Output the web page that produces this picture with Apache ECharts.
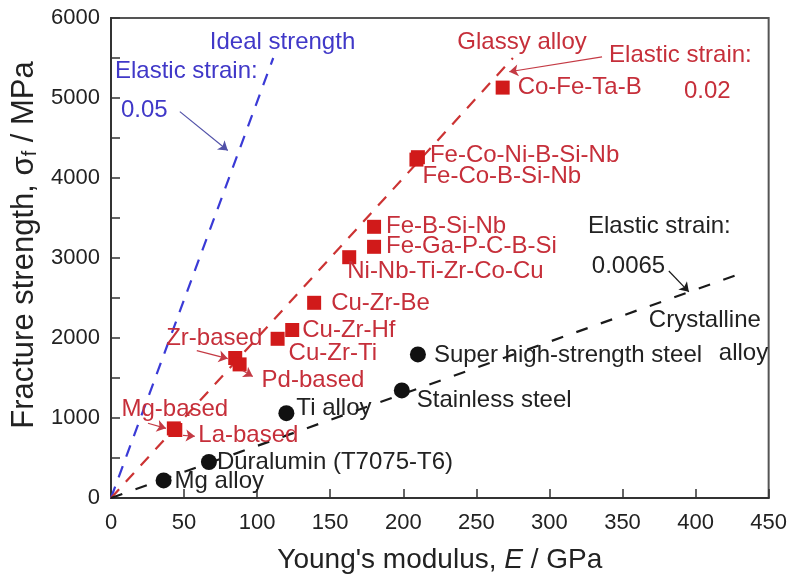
<!DOCTYPE html>
<html>
<head>
<meta charset="utf-8">
<script src="https://cdn.jsdelivr.net/npm/echarts@6/dist/echarts.min.js"></script>
<style>
  html, body { margin: 0; padding: 0; background: #fff; }
  #chart { width: 790px; height: 579px; }
</style>
</head>
<body>
<div id="chart"></div>
<script>
// tick labels
const xTicks = [0, 50, 100, 150, 200, 250, 300, 350, 400, 450];
const yTicks = [0, 1000, 2000, 3000, 4000, 5000, 6000];

// glassy alloys (red squares)
const glassyNames = ['Co-Fe-Ta-B', 'Fe-Co-Ni-B-Si-Nb', 'Fe-Co-B-Si-Nb', 'Fe-B-Si-Nb', 'Fe-Ga-P-C-B-Si',
  'Ni-Nb-Ti-Zr-Co-Cu', 'Cu-Zr-Be', 'Cu-Zr-Hf', 'Cu-Zr-Ti', 'Zr-based', 'Pd-based', 'Mg-based', 'La-based'];
const glassyModulus = [268, 210, 209, 180, 180, 163, 139, 124, 114, 85, 88, 43, 44];
const glassyStrength = [5130, 4260, 4230, 3390, 3140, 3010, 2440, 2100, 1990, 1750, 1670, 870, 850];

// crystalline alloys (black circles)
const crystalNames = ['Mg alloy', 'Duralumin (T7075-T6)', 'Ti alloy', 'Stainless steel', 'Super high-strength steel'];
const crystalModulus = [36, 67, 120, 199, 210];
const crystalStrength = [220, 450, 1060, 1345, 1795];

// elastic strain lines (end points)
const idealLineE = [0, 111];
const idealLineS = [0, 5500];
const glassyLineE = [0, 275];
const glassyLineS = [0, 5500];
const crystalLineE = [0, 430];
const crystalLineS = [0, 2800];

const FONT = '"Liberation Sans", Arial, sans-serif';
const RED = '#d11a1a';
const RED_TXT = '#c62f3a';
const BLUE = '#3a3ad6';
const BLUE_TXT = '#4038c8';
const DARK = '#222';

// where each point label sits: side of the marker + nudge in px
const labelLayout = {
  'Co-Fe-Ta-B': { position: 'right', dx: 3, dy: 0 },
  'Fe-Co-Ni-B-Si-Nb': { position: 'right', dx: 0, dy: -2 },
  'Fe-Co-B-Si-Nb': { position: 'right', dx: -6, dy: 17 },
  'Fe-B-Si-Nb': { position: 'right', dx: 0, dy: 0 },
  'Fe-Ga-P-C-B-Si': { position: 'right', dx: 0, dy: 0 },
  'Ni-Nb-Ti-Zr-Co-Cu': { position: 'right', dx: -14, dy: 14 },
  'Cu-Zr-Be': { position: 'right', dx: 5, dy: 1 },
  'Cu-Zr-Hf': { position: 'right', dx: -2, dy: 0 },
  'Cu-Zr-Ti': { position: 'right', dx: -1, dy: 15 },
  'Zr-based': { position: 'top', dx: -21, dy: 4 },
  'Pd-based': { position: 'right', dx: 10, dy: 16 },
  'Mg-based': { position: 'top', dx: 1, dy: 5 },
  'La-based': { position: 'right', dx: 11, dy: 5 },
  'Mg alloy': { position: 'right', dx: -2, dy: 1 },
  'Duralumin (T7075-T6)': { position: 'right', dx: -5, dy: 0 },
  'Ti alloy': { position: 'right', dx: -3, dy: -5 },
  'Stainless steel': { position: 'right', dx: 2, dy: 10 },
  'Super high-strength steel': { position: 'right', dx: 3, dy: 1 }
};

// free text annotations, anchored in data coordinates (left, middle)
const notes = [
  { text: 'Ideal strength', at: [67.6, 5700], color: BLUE_TXT },
  { text: 'Elastic strain:', at: [2.7, 5330], color: BLUE_TXT },
  { text: '0.05', at: [6.8, 4840], color: BLUE_TXT },
  { text: 'Glassy alloy', at: [237, 5690], color: RED_TXT },
  { text: 'Elastic strain:', at: [340.8, 5530], color: RED_TXT },
  { text: '0.02', at: [392, 5080], color: RED_TXT },
  { text: 'Elastic strain:', at: [326.4, 3390], color: DARK },
  { text: '0.0065', at: [329, 2900], color: DARK },
  { text: 'Crystalline', at: [368, 2215], color: DARK },
  { text: 'alloy', at: [415.9, 1805], color: DARK }
];

const arrows = {
  blue: [[[47.1, 4830], [79.9, 4344]]],
  red: [[[336, 5515], [272.5, 5328]], [[58.7, 1842], [79.9, 1743]], [[90.1, 1593], [97, 1519]],
    [[25.3, 934], [37.6, 871]], [[49.2, 784], [57.4, 772]]],
  black: [[[381.7, 2838], [395.4, 2577]]]
};

function pointData(names, xs, ys) {
  return names.map((n, i) => ({
    name: n,
    value: [xs[i], ys[i]],
    label: { position: labelLayout[n].position }
  }));
}

function nudge(names) {
  return function (params) {
    const l = labelLayout[names[params.dataIndex]];
    return { dx: l.dx, dy: l.dy, hideOverlap: false };
  };
}

function arrowLine(list, color) {
  return {
    silent: true,
    symbol: ['none', 'arrow'],
    symbolSize: 9,
    label: { show: false },
    lineStyle: { type: 'solid', width: 1.2, color: color },
    data: list.map(a => [{ coord: a[0] }, { coord: a[1] }])
  };
}

const chart = echarts.init(document.getElementById('chart'), null, { renderer: 'canvas' });

const option = {
  animation: false,
  backgroundColor: '#fff',
  grid: { left: 111, right: 20, top: 18, bottom: 79, show: true, borderColor: '#555', borderWidth: 2 },
  xAxis: {
    type: 'value',
    min: xTicks[0],
    max: xTicks[xTicks.length - 1],
    interval: xTicks[1] - xTicks[0],
    name: "Young's modulus, {it|E} / GPa",
    nameLocation: 'middle',
    nameGap: 48,
    nameTextStyle: {
      fontSize: 28, fontFamily: FONT, color: DARK,
      rich: { it: { fontSize: 28, fontFamily: FONT, fontStyle: 'italic', color: DARK } }
    },
    axisLine: { onZero: false, lineStyle: { color: '#333', width: 2 } },
    axisTick: { inside: true, length: 9, lineStyle: { color: '#333', width: 1.5 } },
    axisLabel: { fontSize: 22, fontFamily: FONT, color: DARK, margin: 14, formatter: v => String(v) },
    splitLine: { show: false }
  },
  yAxis: {
    type: 'value',
    min: yTicks[0],
    max: yTicks[yTicks.length - 1],
    interval: yTicks[1] - yTicks[0],
    name: 'Fracture strength, σ{sub|f} / MPa',
    nameLocation: 'middle',
    nameGap: 71,
    nameRotate: 90,
    nameTextStyle: {
      fontSize: 31, fontFamily: FONT, color: DARK, padding: [0, 0, 0, 26],
      rich: { sub: { fontSize: 20, fontFamily: FONT, color: DARK, padding: [12, 0, 0, 0] } }
    },
    axisLine: { onZero: false, lineStyle: { color: '#333', width: 2 } },
    axisTick: { inside: true, length: 9, lineStyle: { color: '#333', width: 1.5 } },
    minorTick: { show: true, splitNumber: 2, length: 9, lineStyle: { color: '#333', width: 1.5 } },
    axisLabel: { fontSize: 22, fontFamily: FONT, color: DARK, margin: 11, formatter: v => String(v) },
    splitLine: { show: false }
  },
  series: [
    {
      name: 'Ideal strength',
      type: 'line',
      data: idealLineE.map((x, i) => [x, idealLineS[i]]),
      showSymbol: false,
      lineStyle: { color: BLUE, width: 2.2, type: [12, 10] },
      markLine: arrowLine(arrows.blue, '#5050a8'),
      z: 2
    },
    {
      name: 'Glassy line',
      type: 'line',
      data: glassyLineE.map((x, i) => [x, glassyLineS[i]]),
      showSymbol: false,
      lineStyle: { color: '#cc3333', width: 2.2, type: [12, 10] },
      markLine: arrowLine(arrows.red, '#c43a44'),
      z: 2
    },
    {
      name: 'Crystalline line',
      type: 'line',
      data: crystalLineE.map((x, i) => [x, crystalLineS[i]]),
      showSymbol: false,
      lineStyle: { color: '#1a1a1a', width: 2.2, type: [12, 14] },
      markLine: arrowLine(arrows.black, '#1a1a1a'),
      z: 2
    },
    {
      name: 'Glassy alloy',
      type: 'scatter',
      symbol: 'rect',
      symbolSize: 14,
      itemStyle: { color: RED, opacity: 1 },
      label: { show: true, formatter: '{b}', fontSize: 24, fontFamily: FONT, color: RED_TXT, distance: 5 },
      labelLayout: nudge(glassyNames),
      data: pointData(glassyNames, glassyModulus, glassyStrength),
      z: 3
    },
    {
      name: 'Crystalline alloy',
      type: 'scatter',
      symbol: 'circle',
      symbolSize: 16,
      itemStyle: { color: '#111', opacity: 1 },
      label: { show: true, formatter: '{b}', fontSize: 24, fontFamily: FONT, color: DARK, distance: 5 },
      labelLayout: nudge(crystalNames),
      data: pointData(crystalNames, crystalModulus, crystalStrength),
      z: 3
    }
  ]
};

chart.setOption(option);

chart.setOption({
  graphic: notes.map(n => {
    const p = chart.convertToPixel({ gridIndex: 0 }, n.at);
    return {
      type: 'text',
      x: p[0],
      y: p[1],
      silent: true,
      style: { text: n.text, fill: n.color, fontSize: 24, fontFamily: FONT, align: 'left', verticalAlign: 'middle' }
    };
  })
});
</script>
</body>
</html>
